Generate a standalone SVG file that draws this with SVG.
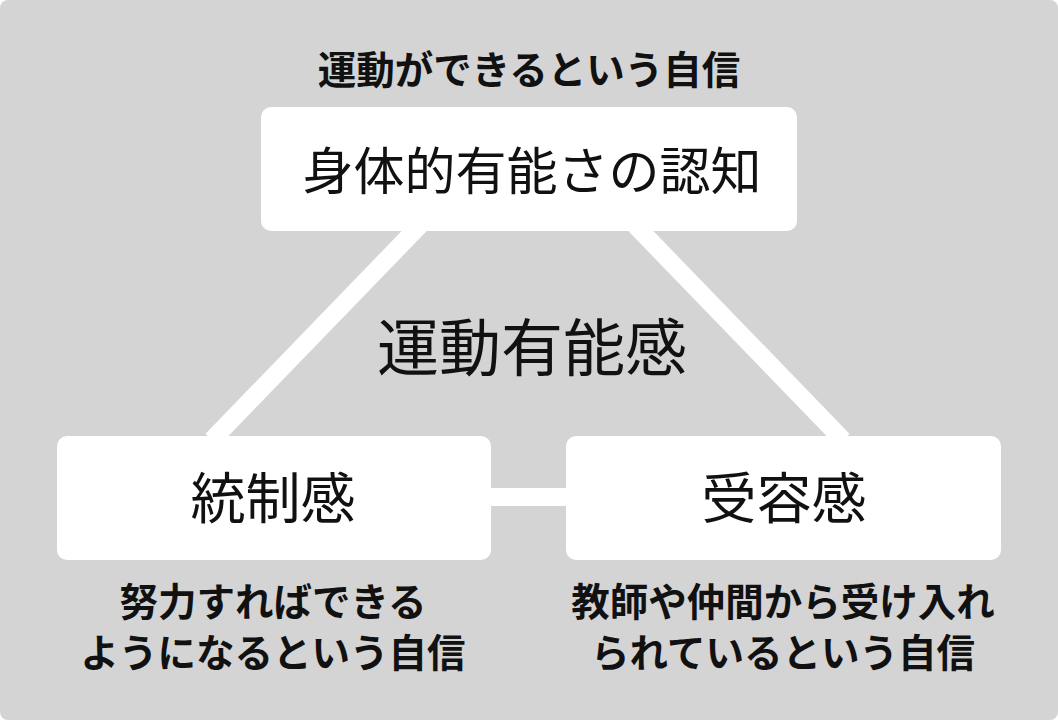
<svg xmlns="http://www.w3.org/2000/svg" width="1058" height="720" viewBox="0 0 1058 720">
<style>
text{font-family:"Noto Sans CJK JP",sans-serif;fill:#111;text-anchor:middle;dominant-baseline:central}
.box{fill:#fff}
.b{font-weight:bold;font-size:38.5px}
.n{font-size:55px}
</style>
<rect x="0" y="0" width="1058" height="720" rx="8" fill="#d4d4d4"/>
<g id="connectors" stroke="#fff" stroke-width="18">
<line x1="420" y1="225" x2="212" y2="440"/>
<line x1="635" y1="225" x2="843" y2="440"/>
<line x1="485" y1="497" x2="572" y2="497"/>
</g>
<text class="b" x="529" y="67">運動ができるという自信</text>
<g id="top"><rect class="box" x="261" y="107" width="536" height="124" rx="10"/><text x="532" y="168" font-size="51px">身体的有能さの認知</text></g>
<text x="532" y="344" font-size="62px">運動有能感</text>
<g id="left"><rect class="box" x="57" y="436" width="434" height="124" rx="10"/><text class="n" x="273" y="494">統制感</text></g>
<g id="right"><rect class="box" x="566" y="436" width="435" height="124" rx="10"/><text class="n" x="784" y="494">受容感</text></g>
<text class="b" x="273" y="599">努力すればできる</text>
<text class="b" x="273" y="650">ようになるという自信</text>
<text class="b" x="783" y="599">教師や仲間から受け入れ</text>
<text class="b" x="783" y="650">られているという自信</text>
</svg>
